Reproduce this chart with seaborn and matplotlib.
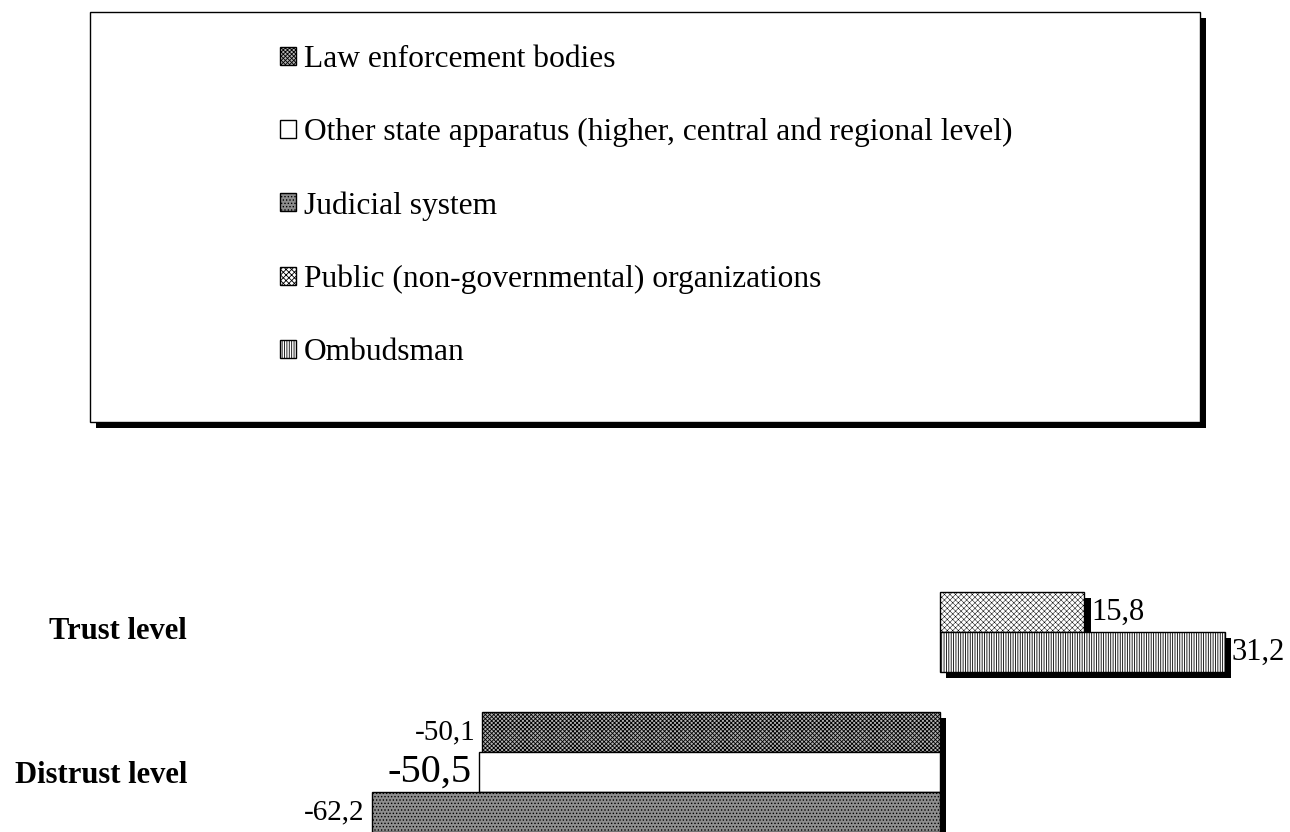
import matplotlib
matplotlib.use("Agg")
import matplotlib.pyplot as plt
import matplotlib.patches as mpatches
import matplotlib.patheffects as pe
import matplotlib.transforms as mtrans
import seaborn as sns
import pandas as pd

levels = ["Trust level", "Distrust level"]
series = ["Law enforcement bodies",
          "Other state apparatus (higher, central and regional level)",
          "Judicial system",
          "Public (non-governmental) organizations",
          "Ombudsman"]
trust_values = [None, None, None, 15.8, 31.2]
distrust_values = [-50.1, -50.5, -62.2, None, None]

rows = []
for lvl, vals in zip(levels, [trust_values, distrust_values]):
    for s, v in zip(series, vals):
        if v is not None:
            rows.append({"level": lvl, "series": s, "value": v})
df = pd.DataFrame(rows)

styles = {
    series[0]: dict(facecolor="#b4b4b4", hatch="xxxxxxxx", hlw=0.6),
    series[1]: dict(facecolor="white", hatch=None, hlw=0.6),
    series[2]: dict(facecolor="#8e8e8e", hatch=".....", hlw=0.6),
    series[3]: dict(facecolor="white", hatch="xxxxxx", hlw=0.35),
    series[4]: dict(facecolor="white", hatch="|||||||", hlw=0.6),
}
label_sizes = {series[0]: 21, series[1]: 29, series[2]: 21, series[3]: 22, series[4]: 22}

sns.set_theme(style="white")
plt.rcParams["font.family"] = ["Liberation Serif", "DejaVu Serif"]
plt.rcParams["hatch.linewidth"] = 0.6
plt.rcParams["text.color"] = "black"

W, H = 1290, 832
fig = plt.figure(figsize=(W / 100, H / 100), dpi=100)
ax_left, ax_right, ax_top = 200, 1270, 450
ax = fig.add_axes([ax_left / W, 0, (ax_right - ax_left) / W, (H - ax_top) / H])

sns.barplot(data=df, x="value", y="level", hue="series", hue_order=series,
            order=levels, orient="h", width=5 / 6, dodge=True, ax=ax,
            errorbar=None, legend=False, edgecolor="black", linewidth=1)

def style_patch(p, st):
    p.set_facecolor(st["facecolor"])
    p.set_edgecolor("black")
    if st["hatch"]:
        p.set_hatch(st["hatch"])
        if hasattr(p, "set_hatch_linewidth"):
            try:
                p.set_hatch_linewidth(st["hlw"])
            except Exception:
                pass

shadow = [pe.SimplePatchShadow(offset=(4.5, -4.5), shadow_rgbFace="black", alpha=1), pe.Normal()]
for s, cont in zip(series, ax.containers):
    st = styles[s]
    for bar in cont:
        style_patch(bar, st)
        bar.set_path_effects(shadow)
    vals = [b.get_width() for b in cont]
    ax.bar_label(cont, labels=[f"{v:.1f}".replace(".", ",") for v in vals],
                 padding=5, fontsize=label_sizes[s], color="black")

zero_px = 940
scale = 9.135
ax.set_xlim((ax_left - zero_px) / scale, (ax_right - zero_px) / scale)
ax.set_ylim(1.0833, -0.5083)
ax.set_axis_off()

blend = mtrans.blended_transform_factory(fig.transFigure, ax.transData)
ax.text(187 / W, 0.25, levels[0], transform=blend, ha="right", va="center",
        fontsize=22, fontweight="bold", color="black")
ax.text(187 / W, 0.846, levels[1], transform=blend, ha="right", va="center",
        fontsize=22, fontweight="bold", color="black")

# legend box with shadow
box = mpatches.Rectangle((90 / W, 1 - 422 / H), 1110 / W, 410 / H,
                         transform=fig.transFigure, facecolor="white",
                         edgecolor="black", linewidth=1, zorder=1)
box.set_path_effects([pe.SimplePatchShadow(offset=(4.5, -4.5), shadow_rgbFace="black", alpha=1), pe.Normal()])
fig.add_artist(box)

handles = []
for s in series:
    hp = mpatches.Patch(edgecolor="black", linewidth=1)
    style_patch(hp, styles[s])
    handles.append(hp)
leg = fig.legend(handles, series, loc="upper left", bbox_to_anchor=(280 / W, 1 - 45 / H),
                 frameon=False, fontsize=22.7, handlelength=0.5, handleheight=0.5,
                 handletextpad=0.25, labelspacing=1.39, borderpad=0, borderaxespad=0,
                 labelcolor="black")
leg.set_zorder(3)

fig.savefig("out.png", dpi=100)
